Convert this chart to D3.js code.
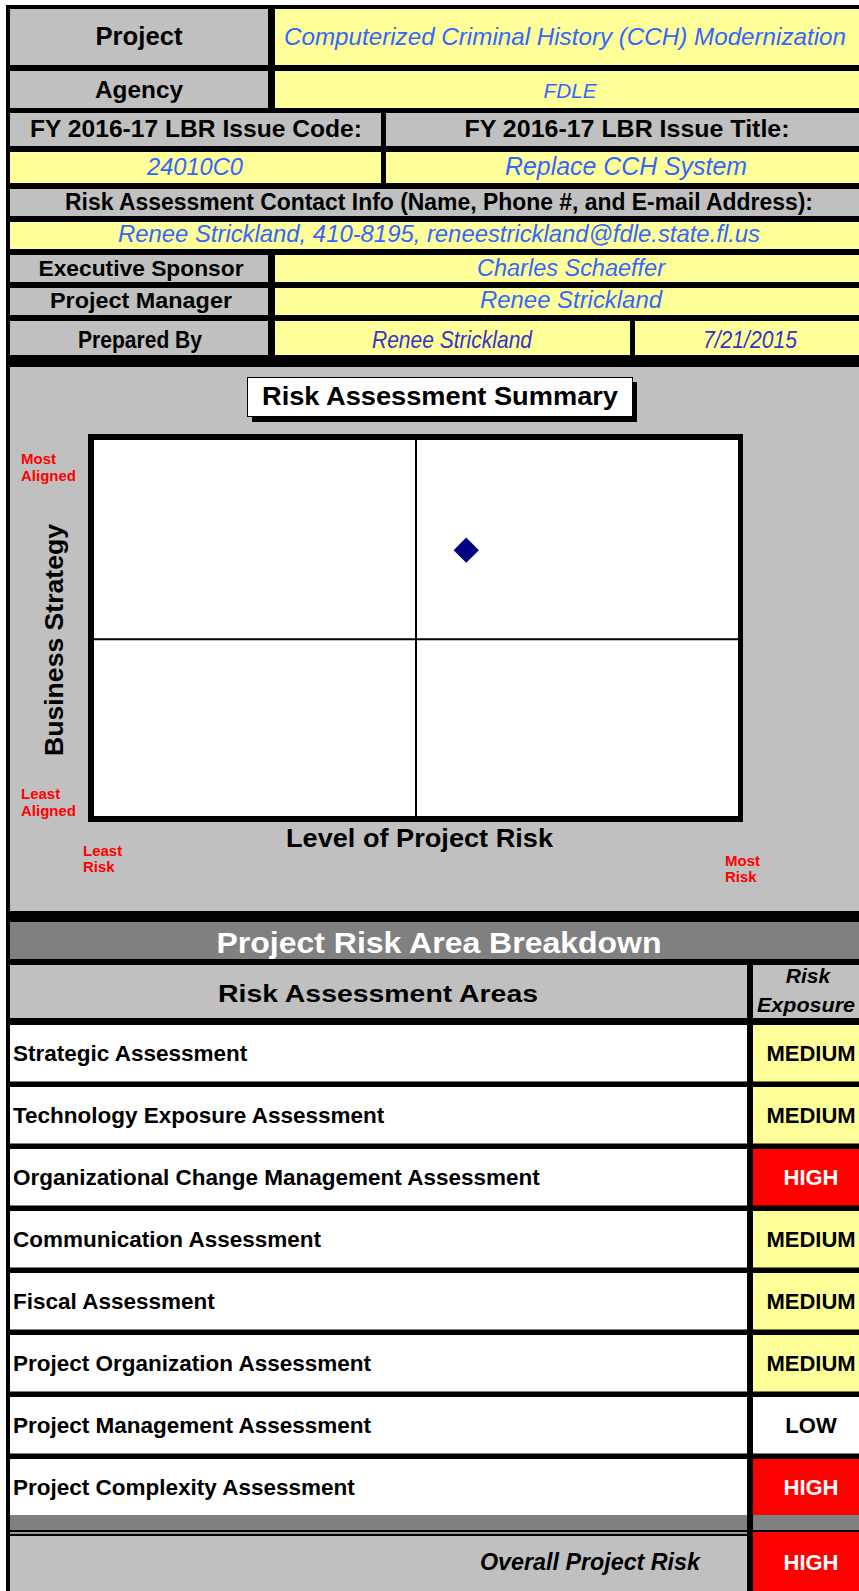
<!DOCTYPE html>
<html><head><meta charset="utf-8">
<script src="https://cdn.jsdelivr.net/npm/d3@7"></script>
<style>html,body{margin:0;padding:0;background:#fff;} svg{display:block;font-family:"Liberation Sans",Arial,sans-serif;}</style>
</head><body><svg id="c" width="859" height="1591"></svg>
<script>
// ---------- DATA ----------
const headerLabels = ["Project", "Agency", "FY 2016-17 LBR Issue Code:", "FY 2016-17 LBR Issue Title:",
  "Risk Assessment Contact Info (Name, Phone #, and E-mail Address):", "Executive Sponsor", "Project Manager", "Prepared By"];
const headerValues = ["Computerized Criminal History (CCH) Modernization", "FDLE", "24010C0", "Replace CCH System",
  "Renee Strickland, 410-8195, reneestrickland@fdle.state.fl.us", "Charles Schaeffer", "Renee Strickland", "Renee Strickland", "7/21/2015"];
const chartTitle = "Risk Assessment Summary";
const xAxisTitle = "Level of Project Risk";
const yAxisTitle = "Business Strategy";
const yEndLabels = [["Most", "Aligned"], ["Least", "Aligned"]];
const xEndLabels = [["Least", "Risk"], ["Most", "Risk"]];
const projectPoint = [{ risk: 0.578, alignment: 0.707 }];
const riskDivider = [0.5];
const alignmentDivider = [0.47];
const sectionTitle = "Project Risk Area Breakdown";
const tableHeaders = ["Risk Assessment Areas", "Risk", "Exposure"];
const riskAreas = ["Strategic Assessment", "Technology Exposure Assessment", "Organizational Change Management Assessment",
  "Communication Assessment", "Fiscal Assessment", "Project Organization Assessment", "Project Management Assessment",
  "Project Complexity Assessment"];
const riskExposure = ["MEDIUM", "MEDIUM", "HIGH", "MEDIUM", "MEDIUM", "MEDIUM", "LOW", "HIGH"];
const overallLabel = "Overall Project Risk";
const overallRisk = "HIGH";

// ---------- STYLE ----------
const GRAY = "#C0C0C0", YEL = "#FFFF99", BLUE = "#3366FF", DBLUE = "#3333CC", DARK = "#808080", RED = "#FF0000";
const exposureFill = { HIGH: RED, MEDIUM: YEL, LOW: "#FFFFFF" };
const exposureText = { HIGH: "#FFFFFF", MEDIUM: "#000000", LOW: "#000000" };

const svg = d3.select("#c");

function cell(x0, y0, x1, y1, fill) {
  return svg.append("rect").attr("x", x0).attr("y", y0).attr("width", x1 - x0).attr("height", y1 - y0).attr("fill", fill);
}
function label(x, y, s, o) {
  const t = svg.append("text").attr("x", x).attr("y", y)
    .attr("text-anchor", o.anchor || "middle")
    .attr("font-size", o.size)
    .attr("font-weight", o.weight || "bold")
    .attr("font-style", o.style || "normal")
    .attr("fill", o.fill || "#000")
    .text(s);
  if (o.tl) t.attr("textLength", o.tl).attr("lengthAdjust", "spacingAndGlyphs");
  if (o.transform) t.attr("transform", o.transform);
  return t;
}
const val = (o) => Object.assign({ weight: "normal", style: "italic", fill: BLUE }, o);

// black frame background
cell(6, 5, 859, 1591, "#000");

// ---------- HEADER ----------
cell(10, 9, 268, 65, GRAY); cell(275, 9, 859, 65, YEL);
label(139, 45, headerLabels[0], { size: 26, tl: 87 });
label(565, 45, headerValues[0], val({ size: 24, tl: 562 }));

cell(10, 71, 268, 108, GRAY); cell(275, 71, 859, 108, YEL);
label(139, 98, headerLabels[1], { size: 24, tl: 88 });
label(570, 98, headerValues[1], val({ size: 21, tl: 53 }));

cell(10, 113, 381, 146, GRAY); cell(386, 113, 859, 146, GRAY);
label(196, 137, headerLabels[2], { size: 24, tl: 332 });
label(627, 137, headerLabels[3], { size: 24, tl: 325 });

cell(10, 152, 381, 183, YEL); cell(386, 152, 859, 183, YEL);
label(195, 175, headerValues[2], val({ size: 24, tl: 96 }));
label(626, 175, headerValues[3], val({ size: 25, tl: 242 }));

cell(10, 189, 859, 216, GRAY);
label(439, 210, headerLabels[4], { size: 23, tl: 748 });

cell(10, 222, 859, 249, YEL);
label(439, 242, headerValues[4], val({ size: 24, tl: 642 }));

cell(10, 255, 268, 282, GRAY); cell(275, 255, 859, 282, YEL);
label(141, 276, headerLabels[5], { size: 22, tl: 205 });
label(571, 276, headerValues[5], val({ size: 23, tl: 188 }));

cell(10, 288, 268, 315, GRAY); cell(275, 288, 859, 315, YEL);
label(141, 308, headerLabels[6], { size: 22, tl: 182 });
label(571, 308, headerValues[6], val({ size: 23, tl: 182 }));

cell(10, 321, 268, 355, GRAY); cell(275, 321, 630, 355, YEL); cell(635, 321, 859, 355, YEL);
label(140, 348, headerLabels[7], { size: 23, tl: 124 });
label(452, 348, headerValues[7], val({ size: 24, tl: 160, fill: DBLUE }));
label(750, 348, headerValues[8], val({ size: 24, tl: 94, fill: DBLUE }));

// ---------- CHART ----------
cell(10, 367, 859, 911, GRAY);
// title box
svg.append("rect").attr("x", 252).attr("y", 382).attr("width", 385).attr("height", 40).attr("fill", "#000");
svg.append("rect").attr("x", 247.5).attr("y", 377.5).attr("width", 385).attr("height", 39).attr("fill", "#fff").attr("stroke", "#000").attr("stroke-width", 1);
label(440, 405, chartTitle, { size: 25, tl: 356 });

const x = d3.scaleLinear().domain([0, 1]).range([94, 738]);
const y = d3.scaleLinear().domain([0, 1]).range([816, 440]);
// plot frame
svg.append("rect").attr("x", x(0) - 6).attr("y", y(1) - 6).attr("width", x(1) - x(0) + 11).attr("height", y(0) - y(1) + 12).attr("fill", "#000");
svg.append("rect").attr("x", x(0)).attr("y", y(1)).attr("width", x(1) - x(0)).attr("height", y(0) - y(1)).attr("fill", "#fff");
// quadrant dividers
svg.selectAll(".vdiv").data(riskDivider).join("line").attr("class", "vdiv")
  .attr("x1", d => x(d)).attr("x2", d => x(d)).attr("y1", y(1)).attr("y2", y(0))
  .attr("stroke", "#000").attr("stroke-width", 2);
svg.selectAll(".hdiv").data(alignmentDivider).join("line").attr("class", "hdiv")
  .attr("x1", x(0)).attr("x2", x(1)).attr("y1", d => y(d)).attr("y2", d => y(d))
  .attr("stroke", "#000").attr("stroke-width", 2);
// point
svg.selectAll(".pt").data(projectPoint).join("path").attr("class", "pt")
  .attr("d", d3.symbol(d3.symbolSquare, 320)())
  .attr("transform", d => `translate(${x(d.risk)},${y(d.alignment)}) rotate(45)`)
  .attr("fill", "#000080");

// axis titles
label(419.5, 847, xAxisTitle, { size: 26, tl: 267 });
label(63, 640, yAxisTitle, { size: 26, tl: 232, transform: "rotate(-90,63,640)" });

// end labels
const endStyle = { size: 15, fill: RED, anchor: "start" };
label(21, 464, yEndLabels[0][0], endStyle); label(21, 481, yEndLabels[0][1], endStyle);
label(21, 799, yEndLabels[1][0], endStyle); label(21, 816, yEndLabels[1][1], endStyle);
label(83, 856, xEndLabels[0][0], endStyle); label(83, 872, xEndLabels[0][1], endStyle);
label(725, 866, xEndLabels[1][0], endStyle); label(725, 882, xEndLabels[1][1], endStyle);

// ---------- TABLE ----------
cell(10, 922, 859, 959, DARK);
label(439, 953, sectionTitle, { size: 29, fill: "#fff", tl: 445 });

cell(10, 965, 747, 1018, GRAY); cell(753, 965, 859, 1018, GRAY);
label(378, 1002, tableHeaders[0], { size: 24, tl: 320 });
label(808, 983, tableHeaders[1], { size: 21, style: "italic" });
label(806, 1012, tableHeaders[2], { size: 21, style: "italic", tl: 98 });

const rowBand = d3.scaleBand().domain(riskAreas).range([1025, 1515.5]).paddingInner(0.089).paddingOuter(0);
const rows = svg.selectAll(".row").data(riskAreas.map((a, i) => ({ area: a, exp: riskExposure[i] }))).join("g").attr("class", "row");
rows.append("rect").attr("x", 10).attr("y", d => rowBand(d.area)).attr("width", 737).attr("height", rowBand.bandwidth()).attr("fill", "#fff");
rows.append("rect").attr("x", 753).attr("y", d => rowBand(d.area)).attr("width", 106).attr("height", rowBand.bandwidth()).attr("fill", d => exposureFill[d.exp]);
rows.append("text").attr("x", 13).attr("y", d => rowBand(d.area) + rowBand.bandwidth() / 2 + 7.5)
  .attr("font-size", 22.5).attr("font-weight", "bold").attr("fill", "#000").text(d => d.area);
rows.append("text").attr("x", 811).attr("y", d => rowBand(d.area) + rowBand.bandwidth() / 2 + 7.5)
  .attr("text-anchor", "middle").attr("font-size", 22).attr("font-weight", "bold")
  .attr("fill", d => exposureText[d.exp]).text(d => d.exp);

// bottom band & overall
cell(10, 1515, 747, 1530, DARK); cell(753, 1515, 859, 1530, DARK);
cell(10, 1532, 747, 1534, "#9a9a9a");
cell(10, 1536, 747, 1591, GRAY);
cell(753, 1532, 859, 1591, exposureFill[overallRisk]);
label(590, 1570, overallLabel, { size: 23, style: "italic", tl: 220 });
label(811, 1570, overallRisk, { size: 22, fill: exposureText[overallRisk] });
</script></body></html>
